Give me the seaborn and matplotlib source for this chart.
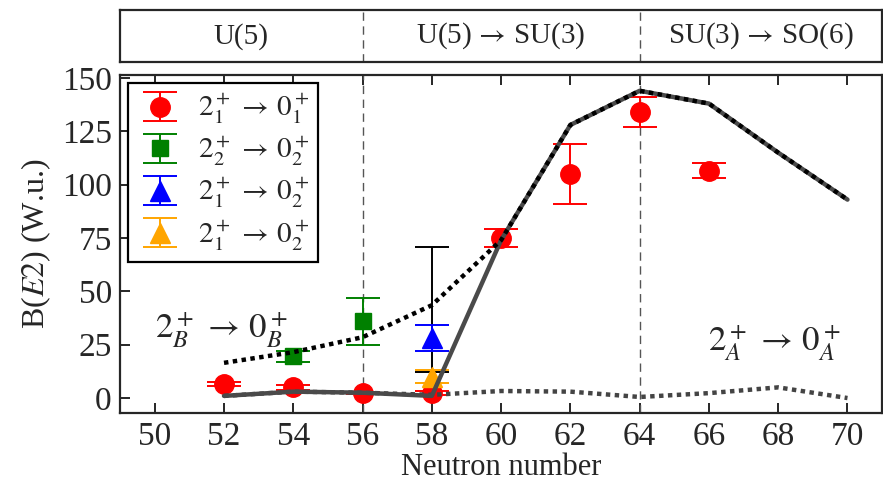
import matplotlib
matplotlib.use("Agg")
import matplotlib.pyplot as plt
import seaborn as sns
import numpy as np
import pandas as pd

# ---------------- data ----------------
N_theory = [52, 54, 56, 58, 60, 62, 64, 66, 68, 70]
theory_total = [1, 3, 2.5, 1, 74, 128, 144, 138, 115, 93]
theory_B = [16.5, 21.5, 28.5, 43.5, 74, 128, 144, 138, 115, 93]
theory_A = [1, 3, 2.5, 1.5, 3.3, 3, 0.5, 2.3, 5, 0]

N_e1 = [52, 54, 56, 58, 60, 62, 64, 66]
val_e1 = [6.5, 5, 2.5, 2.5, 75, 105, 134, 106.5]
err_e1 = [1, 1, 0.5, 1, 4, 14, 7, 3.5]

N_e2 = [54, 56]
val_e2 = [19.5, 36]
err_e2 = [2.5, 11]

N_e3 = [58]
val_e3 = [28]
err_e3 = [6]

N_e4 = [58]
val_e4 = [10]
err_e4 = [3]

N_e5 = [58]
val_e5 = [41.5]
err_e5 = [29.5]

x_ticks = [50, 52, 54, 56, 58, 60, 62, 64, 66, 68, 70]
y_ticks = [0, 25, 50, 75, 100, 125, 150]
region_labels = ["U(5)", r"U(5)$\,\rightarrow\,$SU(3)", r"SU(3)$\,\rightarrow\,$SO(6)"]
region_centers = [52.5, 60, 67.5]
region_bounds = [56, 64]
legend_labels = [r"$2_1^+\,\rightarrow\,0_1^+$", r"$2_2^+\,\rightarrow\,0_2^+$",
                 r"$2_1^+\,\rightarrow\,0_2^+$", r"$2_1^+\,\rightarrow\,0_2^+$"]

# ---------------- style ----------------
sns.set_style("ticks")
plt.rcParams['font.family'] = ['Liberation Serif', 'DejaVu Serif']
plt.rcParams['mathtext.fontset'] = 'stix'
plt.rcParams['axes.linewidth'] = 1.6

fig = plt.figure(figsize=(8.83, 4.87), dpi=100)
ax = fig.add_axes([0.136, 0.152, 0.863, 0.694])
axt = fig.add_axes([0.136, 0.873, 0.863, 0.106])

df = pd.DataFrame({"N": N_theory, "total": theory_total, "B": theory_B, "A": theory_A})

# theory lines
sns.lineplot(data=df, x="N", y="total", ax=ax, color="#4a4a4a", lw=3.2, zorder=5)
sns.lineplot(data=df, x="N", y="B", ax=ax, color="black", lw=3.2, zorder=6,
             linestyle=(0, (1, 1)))
sns.lineplot(data=df, x="N", y="A", ax=ax, color="#444444", lw=3.2, zorder=4,
             linestyle=(0, (1, 1)))

# experimental points
eb_kw = dict(linestyle="none", capsize=12, elinewidth=1.4, capthick=1.4, zorder=3)
h1 = ax.errorbar(N_e1, val_e1, yerr=err_e1, fmt="o", color="red", ms=14, **eb_kw)
h2 = ax.errorbar(N_e2, val_e2, yerr=err_e2, fmt="s", color="green", ms=12, **eb_kw)
ax.errorbar(N_e5, val_e5, yerr=err_e5, fmt="none", ecolor="black", capsize=12,
            elinewidth=1.4, capthick=1.4, zorder=2)
h3 = ax.errorbar(N_e3, val_e3, yerr=err_e3, fmt="^", color="blue", ms=14, **eb_kw)
h4 = ax.errorbar(N_e4, val_e4, yerr=err_e4, fmt="^", color="orange", ms=14, **eb_kw)

for b in region_bounds:
    ax.axvline(b, color="#555555", lw=1.0, ls=(0, (6, 4)), zorder=1)
    axt.axvline(b, color="#555555", lw=1.0, ls=(0, (6, 4)))

ax.set_xlim(49, 71)
ax.set_ylim(-7, 151.4)
ax.set_xticks(x_ticks)
ax.set_yticks(y_ticks)
ax.tick_params(axis="both", direction="in", length=7, width=1.4, labelsize=24,
               top=True, right=False, pad=6)
ax.set_xlabel("Neutron number", fontsize=22, labelpad=1)
ax.set_ylabel(r"B($E2$) (W.u.)", fontsize=23, labelpad=6)

leg = ax.legend([h1, h2, h3, h4], legend_labels,
                loc="upper left", bbox_to_anchor=(0.0105, 0.975), fontsize=21,
                frameon=True, fancybox=False, edgecolor="black",
                borderpad=0.3, labelspacing=0.25, handletextpad=0.5,
                handlelength=1.6, borderaxespad=0)
leg.get_frame().set_linewidth(1.6)
leg.get_frame().set_alpha(1)

ax.text(50.0, 32, r"$2_B^+\,\rightarrow\,0_B^+$", fontsize=25, ha="left", va="center")
ax.text(69.8, 26, r"$2_A^+\,\rightarrow\,0_A^+$", fontsize=25, ha="right", va="center")

# top region panel
axt.set_xlim(49, 71)
axt.set_ylim(0, 1)
axt.set_xticks([])
axt.set_yticks([])
for c, lab in zip(region_centers, region_labels):
    axt.text(c, 0.5, lab, fontsize=21, ha="center", va="center")

fig.savefig("out.png", dpi=100)
